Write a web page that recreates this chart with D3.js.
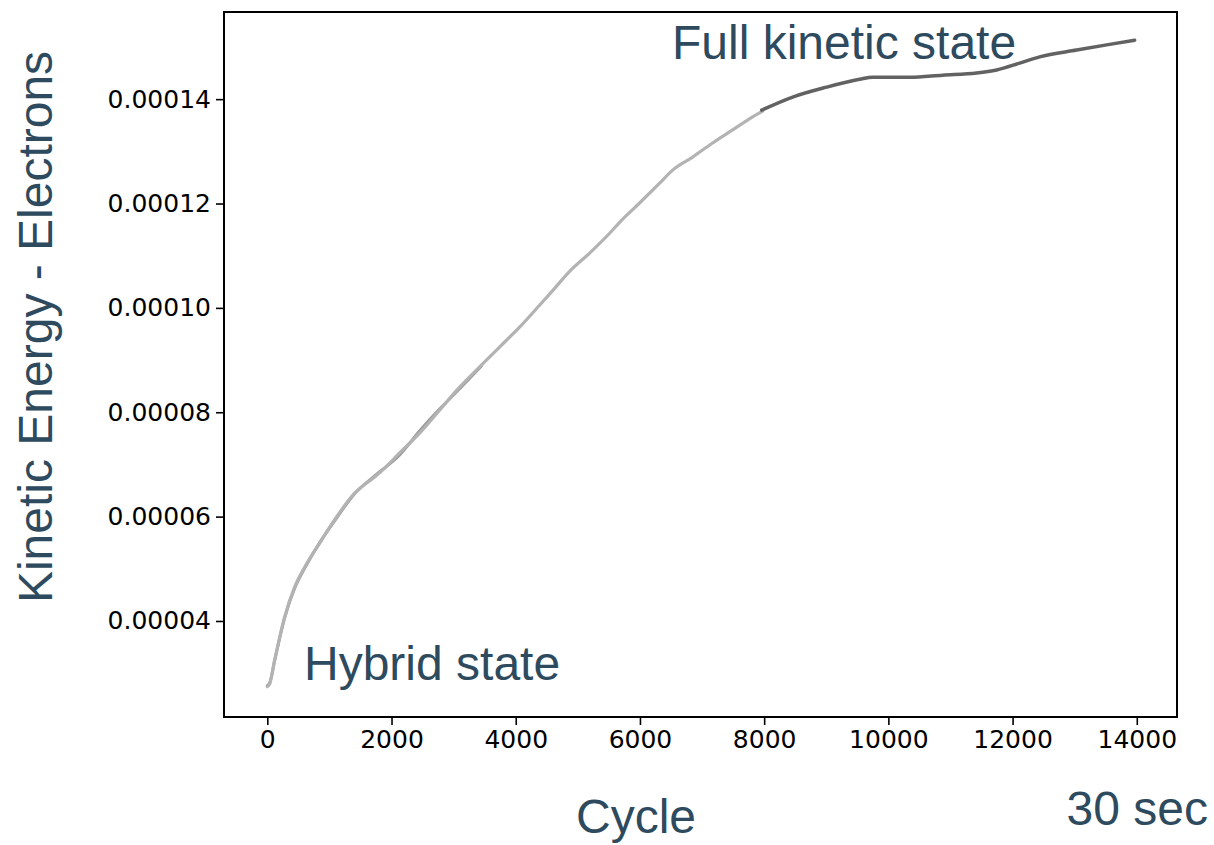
<!DOCTYPE html>
<html>
<head>
<meta charset="utf-8">
<script src="https://cdn.jsdelivr.net/npm/d3@7"></script>
<style>
  body { margin: 0; background: #fff; }
  .tick text { font-family: "DejaVu Sans", sans-serif; }
  .note { font-family: "Liberation Sans", Arial, sans-serif; fill: #2e4a5e; }
</style>
</head>
<body>
<div id="chart"></div>
<script>
// cycles / kinetic energy (units of 1e-5)
const hybridCycle = [0, 40, 118, 279, 440, 601, 874, 1084, 1406, 1728, 1808, 2130, 2452, 2774, 3096, 3418, 3740, 4062, 4384, 4594, 4868, 5190, 5512, 5673, 5995, 6317, 6526, 6848, 7170, 7493, 7815, 7976];
const hybridKE = [2.74, 2.80, 3.25, 4.08, 4.65, 5.03, 5.55, 5.94, 6.45, 6.76, 6.84, 7.22, 7.60, 8.04, 8.48, 8.87, 9.25, 9.63, 10.05, 10.33, 10.70, 11.05, 11.43, 11.64, 12.01, 12.39, 12.64, 12.89, 13.16, 13.41, 13.66, 13.77];

// shorter hybrid run, drawn underneath
const earlyCycle = [0, 40, 118, 279, 440, 601, 874, 1084, 1406, 1728, 2130, 2452, 2774, 3096, 3445];
const earlyKE = [2.76, 2.82, 3.24, 4.06, 4.63, 5.01, 5.56, 5.92, 6.44, 6.78, 7.18, 7.64, 8.06, 8.45, 8.88];

const kineticCycle = [7960, 8459, 9006, 9538, 9747, 10343, 10874, 11422, 11744, 12114, 12436, 13032, 13563, 13966];
const kineticKE = [13.79, 14.04, 14.23, 14.38, 14.42, 14.42, 14.46, 14.50, 14.56, 14.69, 14.81, 14.94, 15.05, 15.13];

const xTicks = [0, 2000, 4000, 6000, 8000, 10000, 12000, 14000];
const yTicks = [0.00004, 0.00006, 0.00008, 0.00010, 0.00012, 0.00014];

const W = 1214, H = 845;
const plotL = 224, plotR = 1177, plotT = 12, plotB = 717;

const svg = d3.select("#chart").append("svg")
    .attr("width", W)
    .attr("height", H);

const x = d3.scaleLinear().domain([-697.5, 14647.5]).range([plotL, plotR]);
const y = d3.scaleLinear().domain([2.16e-5, 1.567e-4]).range([plotB, plotT]);

const toPts = (cs, vs) => cs.map((c, i) => [c, vs[i] * 1e-5]);

const line = d3.line()
    .x(d => x(d[0]))
    .y(d => y(d[1]))
    .curve(d3.curveMonotoneX);

// lines
svg.append("path")
    .datum(toPts(earlyCycle, earlyKE))
    .attr("d", line)
    .attr("fill", "none")
    .attr("stroke", "#999")
    .attr("stroke-width", 3)
    .attr("stroke-linecap", "round");

svg.append("path")
    .datum(toPts(hybridCycle, hybridKE))
    .attr("d", line)
    .attr("fill", "none")
    .attr("stroke", "#b3b3b3")
    .attr("stroke-width", 3.2)
    .attr("stroke-linecap", "round");

svg.append("path")
    .datum(toPts(kineticCycle, kineticKE))
    .attr("d", line)
    .attr("fill", "none")
    .attr("stroke", "#626262")
    .attr("stroke-width", 3.5)
    .attr("stroke-linecap", "round");

// axes
const xAxis = svg.append("g")
    .attr("transform", `translate(0,${plotB})`)
    .call(d3.axisBottom(x).tickValues(xTicks).tickSize(8).tickPadding(5).tickFormat(d3.format("d")));

const yAxis = svg.append("g")
    .attr("transform", `translate(${plotL},0)`)
    .call(d3.axisLeft(y).tickValues(yTicks).tickSize(8).tickPadding(5).tickFormat(d3.format(".5f")));

[xAxis, yAxis].forEach(g => {
    g.select(".domain").remove();
    g.selectAll(".tick line").attr("stroke", "#000").attr("stroke-width", 1.6);
    g.selectAll(".tick text").attr("fill", "#000").style("font-size", "25px");
});

// frame
svg.append("rect")
    .attr("x", plotL)
    .attr("y", plotT)
    .attr("width", plotR - plotL)
    .attr("height", plotB - plotT)
    .attr("fill", "none")
    .attr("stroke", "#000")
    .attr("stroke-width", 2);

// annotations
svg.append("text").attr("class", "note")
    .attr("x", 672).attr("y", 59)
    .style("font-size", "48px")
    .text("Full kinetic state");

svg.append("text").attr("class", "note")
    .attr("x", 304).attr("y", 680)
    .style("font-size", "48px")
    .text("Hybrid state");

svg.append("text").attr("class", "note")
    .attr("x", 636).attr("y", 833)
    .attr("text-anchor", "middle")
    .style("font-size", "48px")
    .text("Cycle");

svg.append("text").attr("class", "note")
    .attr("x", 1208).attr("y", 825)
    .attr("text-anchor", "end")
    .style("font-size", "48px")
    .text("30 sec");

svg.append("text").attr("class", "note")
    .attr("transform", "translate(52,327) rotate(-90)")
    .attr("text-anchor", "middle")
    .style("font-size", "48px")
    .text("Kinetic Energy - Electrons");
</script>
</body>
</html>
